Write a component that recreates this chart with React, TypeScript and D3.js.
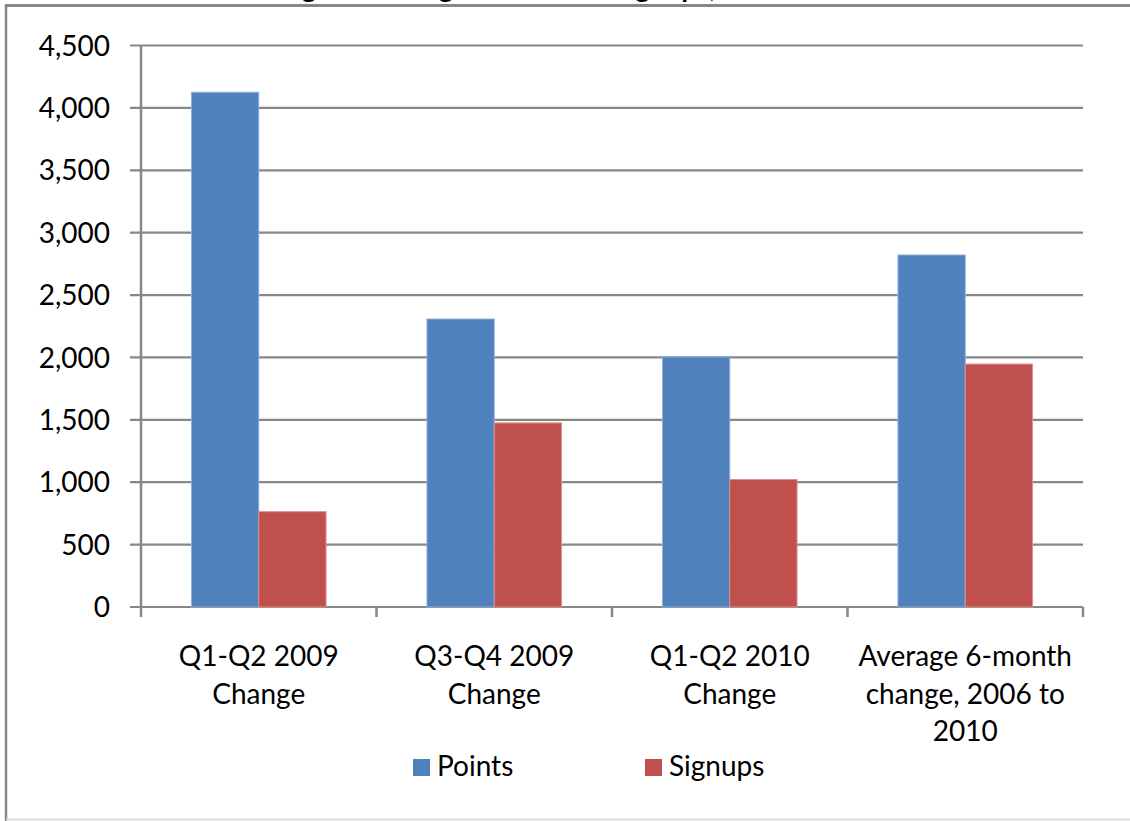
import React from "react";
import * as d3 from "d3";

const categories: string[][] = [
  ["Q1-Q2 2009", "Change"],
  ["Q3-Q4 2009", "Change"],
  ["Q1-Q2 2010", "Change"],
  ["Average 6-month", "change, 2006 to", "2010"],
];
const seriesNames = ["Points", "Signups"];
const pointsValues = [4125, 2308, 2004, 2821];
const signupsValues = [764, 1475, 1022, 1947];
const yTicks = [0, 500, 1000, 1500, 2000, 2500, 3000, 3500, 4000, 4500];
const colors = ["#4F81BD", "#C0504D"];
const edgeColors = ["#8DB0DA", "#DC8E8C"];
const titleText = "Change in Average Points and Signups, 2009 to 2010";

const W = 1130;
const H = 821;
const left = 141;
const right = 1083;
const top = 45.5;
const bottom = 607;
const FONT = "Lato, 'Open Sans', sans-serif";
const GRID = "#878787";

export default function App() {
  const x0 = d3
    .scaleBand<number>()
    .domain(categories.map((_, i) => i))
    .range([left, right])
    .paddingInner(0.3 / 0.7 * 0 + 1.5 / 3.5)
    .paddingOuter(1.5 / 3.5 / 2);
  const x1 = d3.scaleBand<number>().domain([0, 1]).range([0, x0.bandwidth()]);
  const y = d3.scaleLinear().domain([0, 4500]).range([bottom, top]);
  const fmt = d3.format(",");
  const series = [pointsValues, signupsValues];
  const step = (right - left) / categories.length;
  const fullBand = d3.scaleBand<number>().domain(categories.map((_, i) => i)).range([left, right]);

  return (
    <svg
      width={W}
      height={H}
      style={{ position: "absolute", left: 0, top: 0, background: "#fff" }}
    >
      <rect x={0} y={0} width={W} height={H} fill="#fff" />
      <text
        x={565}
        y={-3}
        textAnchor="middle"
        fontFamily={FONT}
        fontWeight="bold"
        fontSize={28}
        fill="#000"
      >
        {titleText}
      </text>
      {/* frame */}
      <line x1={6} x2={W + 5} y1={5.5} y2={5.5} stroke={GRID} strokeWidth={3} />
      <line x1={6} x2={6} y1={4} y2={H} stroke={GRID} strokeWidth={2.5} />
      <line x1={6} x2={W} y1={819.5} y2={819.5} stroke="#dcdcdc" strokeWidth={2} />

      {/* gridlines */}
      {yTicks.map((t) => (
        <line
          key={"g" + t}
          x1={left - 11}
          x2={right}
          y1={y(t)}
          y2={y(t)}
          stroke={GRID}
          strokeWidth={2.2}
        />
      ))}
      {/* y axis */}
      <line x1={left} x2={left} y1={top} y2={bottom + 1} stroke={GRID} strokeWidth={2.5} />
      {/* x ticks */}
      {d3.range(categories.length + 1).map((i) => (
        <line
          key={"xt" + i}
          x1={left + i * step}
          x2={left + i * step}
          y1={bottom}
          y2={bottom + 10}
          stroke={GRID}
          strokeWidth={2.5}
        />
      ))}
      {/* y labels */}
      {yTicks.map((t) => (
        <text
          key={"yl" + t}
          x={110}
          y={y(t)}
          dy="0.36em"
          textAnchor="end"
          fontFamily={FONT}
          fontSize={28}
          fill="#000"
        >
          {fmt(t)}
        </text>
      ))}
      {/* bars */}
      {series.map((vals, s) =>
        vals.map((v, i) => (
          <rect
            key={"b" + s + "-" + i}
            x={(x0(i) as number) + (x1(s) as number)}
            y={y(v)}
            width={x1.bandwidth()}
            height={bottom - y(v)}
            fill={colors[s]}
            stroke={edgeColors[s]}
            strokeWidth={1}
          />
        ))
      )}
      {/* category labels */}
      {categories.map((lines, i) => (
        <text
          key={"c" + i}
          x={(fullBand(i) as number) + fullBand.bandwidth() / 2}
          y={666}
          textAnchor="middle"
          fontFamily={FONT}
          fontSize={28}
          fill="#000"
        >
          {lines.map((l, j) => (
            <tspan key={j} x={(fullBand(i) as number) + fullBand.bandwidth() / 2} y={666 + j * 37.5}>
              {l}
            </tspan>
          ))}
        </text>
      ))}
      {/* legend */}
      {seriesNames.map((n, s) => {
        const lx = s === 0 ? 413 : 645;
        return (
          <g key={"lg" + s}>
            <rect x={lx} y={759} width={17} height={17} fill={colors[s]} />
            <text x={lx + 24} y={776} fontFamily={FONT} fontSize={28} fill="#000">
              {n}
            </text>
          </g>
        );
      })}
    </svg>
  );
}
